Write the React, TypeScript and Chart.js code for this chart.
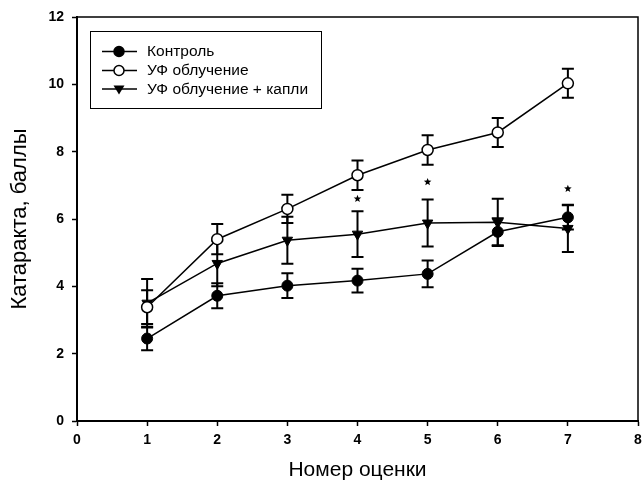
import React, { useEffect, useRef } from "react";
import { Chart, registerables } from "chart.js";

Chart.register(...registerables);

const xValues = [1, 2, 3, 4, 5, 6, 7];
const seriesLabels = ["Контроль", "УФ облучение", "УФ облучение + капли"];
const control = [2.45, 3.72, 4.02, 4.17, 4.37, 5.62, 6.05];
const controlErr = [0.35, 0.37, 0.37, 0.35, 0.4, 0.4, 0.36];
const uv = [3.38, 5.4, 6.3, 7.3, 8.05, 8.57, 10.03];
const uvErr = [0.5, 0.45, 0.42, 0.44, 0.44, 0.43, 0.43];
const drops = [3.5, 4.68, 5.37, 5.55, 5.88, 5.9, 5.72];
const dropsErr = [0.72, 0.68, 0.7, 0.68, 0.7, 0.7, 0.7];
const starX = [4, 5, 7];
const starY = [6.6, 7.1, 6.9];
const xTitle = "Номер оценки";
const yTitle = "Катаракта, баллы";

const FONT = '"Liberation Sans", Arial, sans-serif';

export default function App() {
  const ref = useRef<HTMLCanvasElement | null>(null);

  useEffect(() => {
    document.body.style.margin = "0";
    const canvas = ref.current;
    if (!canvas) return;

    const errs = [controlErr, uvErr, dropsErr];

    const extras = {
      id: "extras",
      beforeDatasetsDraw(chart: any) {
        const ctx = chart.ctx;
        const xs = chart.scales.x;
        const ys = chart.scales.y;
        ctx.save();
        ctx.strokeStyle = "#000";
        ctx.lineWidth = 2;
        chart.data.datasets.forEach((ds: any, di: number) => {
          ds.data.forEach((p: any, i: number) => {
            const e = errs[di][i];
            const px = xs.getPixelForValue(p.x);
            const top = ys.getPixelForValue(p.y + e);
            const bot = ys.getPixelForValue(p.y - e);
            ctx.beginPath();
            ctx.moveTo(px, top);
            ctx.lineTo(px, bot);
            ctx.moveTo(px - 6, top);
            ctx.lineTo(px + 6, top);
            ctx.moveTo(px - 6, bot);
            ctx.lineTo(px + 6, bot);
            ctx.stroke();
          });
        });
        ctx.restore();
      },
      afterDraw(chart: any) {
        const ctx = chart.ctx;
        const ca = chart.chartArea;
        const xs = chart.scales.x;
        const ys = chart.scales.y;
        ctx.save();
        // frame top and right
        ctx.strokeStyle = "#000";
        ctx.lineWidth = 1.5;
        ctx.beginPath();
        ctx.moveTo(ca.left, ca.top);
        ctx.lineTo(ca.right, ca.top);
        ctx.lineTo(ca.right, ca.bottom);
        ctx.stroke();

        // stars
        ctx.fillStyle = "#000";
        starX.forEach((sx, i) => {
          const cx = xs.getPixelForValue(sx);
          const cy = ys.getPixelForValue(starY[i]);
          const R = 4;
          const r = 1.7;
          ctx.beginPath();
          for (let k = 0; k < 10; k++) {
            const ang = -Math.PI / 2 + (k * Math.PI) / 5;
            const rr = k % 2 === 0 ? R : r;
            const px = cx + rr * Math.cos(ang);
            const py = cy + rr * Math.sin(ang);
            if (k === 0) ctx.moveTo(px, py);
            else ctx.lineTo(px, py);
          }
          ctx.closePath();
          ctx.fill();
        });

        // legend box
        const bx = 90, by = 31, bw = 231, bh = 77;
        ctx.lineWidth = 1;
        ctx.strokeStyle = "#000";
        ctx.strokeRect(bx + 0.5, by + 0.5, bw, bh);
        const rows = [51.5, 70.5, 89];
        ctx.font = "15.5px " + FONT;
        ctx.textBaseline = "middle";
        ctx.textAlign = "left";
        chart.data.datasets.forEach((ds: any, di: number) => {
          const ry = rows[di];
          ctx.strokeStyle = "#000";
          ctx.lineWidth = 1.5;
          ctx.beginPath();
          ctx.moveTo(102, ry);
          ctx.lineTo(137, ry);
          ctx.stroke();
          const mx = 119;
          ctx.beginPath();
          if (di === 2) {
            ctx.moveTo(mx - 5.5, ry - 3.5);
            ctx.lineTo(mx + 5.5, ry - 3.5);
            ctx.lineTo(mx, ry + 5.5);
            ctx.closePath();
            ctx.fillStyle = "#000";
            ctx.fill();
          } else {
            ctx.arc(mx, ry, 5, 0, Math.PI * 2);
            ctx.fillStyle = di === 0 ? "#000" : "#fff";
            ctx.fill();
            ctx.stroke();
          }
          ctx.fillStyle = "#000";
          ctx.fillText(ds.label, 147, ry + 0.5);
        });
        ctx.restore();
      },
    };

    const mk = (vals: number[]) => vals.map((v, i) => ({ x: xValues[i], y: v }));

    const chart = new Chart(canvas, {
      type: "line",
      data: {
        datasets: [
          {
            label: seriesLabels[0],
            data: mk(control),
            borderColor: "#000",
            borderWidth: 1.5,
            pointStyle: "circle",
            pointRadius: 5.5,
            pointBackgroundColor: "#000",
            pointBorderColor: "#000",
            pointBorderWidth: 1,
          },
          {
            label: seriesLabels[1],
            data: mk(uv),
            borderColor: "#000",
            borderWidth: 1.5,
            pointStyle: "circle",
            pointRadius: 5.5,
            pointBackgroundColor: "#fff",
            pointBorderColor: "#000",
            pointBorderWidth: 1.5,
          },
          {
            label: seriesLabels[2],
            data: mk(drops),
            borderColor: "#000",
            borderWidth: 1.5,
            pointStyle: "triangle",
            pointRotation: 180,
            pointRadius: 6,
            pointBackgroundColor: "#000",
            pointBorderColor: "#000",
            pointBorderWidth: 1,
          },
        ],
      },
      options: {
        animation: false,
        responsive: false,
        devicePixelRatio: 1,
        layout: { autoPadding: false, padding: { top: 17, right: 4, left: 0, bottom: 0 } },
        plugins: {
          legend: { display: false },
          tooltip: { enabled: false },
        },
        scales: {
          x: {
            type: "linear",
            min: 0,
            max: 8,
            afterFit: (s: any) => {
              s.height = 67;
              s.paddingLeft = 0;
              s.paddingRight = 0;
            },
            ticks: {
              stepSize: 1,
              color: "#000",
              padding: 6,
              font: { family: FONT, size: 14, weight: "bold" },
            },
            grid: {
              drawOnChartArea: false,
              drawTicks: true,
              tickLength: 5,
              tickColor: "#000",
              tickWidth: 1.5,
            },
            border: { display: true, color: "#000", width: 2 },
            title: {
              display: true,
              text: xTitle,
              color: "#000",
              font: { family: FONT, size: 21 },
              padding: { top: 0, bottom: 5 },
            },
          },
          y: {
            type: "linear",
            min: 0,
            max: 12,
            afterFit: (s: any) => {
              s.width = 77;
              s.paddingTop = 0;
              s.paddingBottom = 0;
            },
            ticks: {
              stepSize: 2,
              color: "#000",
              padding: 8,
              font: { family: FONT, size: 14, weight: "bold" },
            },
            grid: {
              drawOnChartArea: false,
              drawTicks: true,
              tickLength: 5,
              tickColor: "#000",
              tickWidth: 1.5,
            },
            border: { display: true, color: "#000", width: 2 },
            title: {
              display: true,
              text: yTitle,
              color: "#000",
              font: { family: FONT, size: 22 },
              padding: { top: 7, bottom: 0 },
            },
          },
        },
      },
      plugins: [extras],
    } as any);

    return () => chart.destroy();
  }, []);

  return (
    <div style={{ width: 642, height: 488, background: "#fff" }}>
      <canvas ref={ref} width={642} height={488} style={{ display: "block" }} />
    </div>
  );
}
